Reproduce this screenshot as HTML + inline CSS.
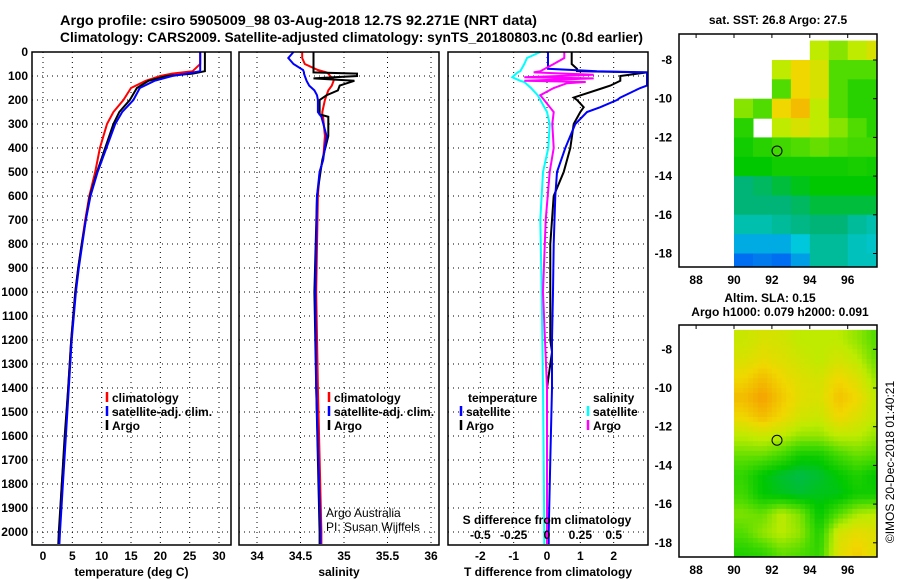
<!DOCTYPE html>
<html><head><meta charset="utf-8"><style>
html,body{margin:0;padding:0;background:#fff;}
svg{display:block;font-family:"Liberation Sans",sans-serif;}
.t{font-weight:bold;font-size:14px;}
.tk{font-weight:bold;font-size:12px;}
</style></head><body>
<svg id="fig" width="900" height="580" viewBox="0 0 900 580" xmlns="http://www.w3.org/2000/svg">
<text x="60" y="25" textLength="477" lengthAdjust="spacingAndGlyphs" class="t">Argo profile: csiro 5905009_98 03-Aug-2018 12.7S 92.271E (NRT data)</text>
<text x="60" y="42" textLength="583" lengthAdjust="spacingAndGlyphs" class="t">Climatology: CARS2009. Satellite-adjusted climatology: synTS_20180803.nc (0.8d earlier)</text>
<text x="778" y="24" text-anchor="middle" class="tk">sat. SST: 26.8 Argo: 27.5</text>
<text x="770" y="302" text-anchor="middle" class="tk">Altim. SLA: 0.15</text>
<text x="780" y="316" text-anchor="middle" class="tk">Argo h1000: 0.079 h2000: 0.091</text>
<text transform="translate(894,462) rotate(-90)" text-anchor="middle" font-size="12">©IMOS 20-Dec-2018 01:40:21</text>
<g id="layer"></g>
</svg>
<script>
// ---- profile data ----
const depths = [0,50,80,90,100,120,150,200,250,300,400,500,600,700,800,900,1000,1200,1400,1600,1800,2000,2050];
const tempArgo = [27.6,27.6,27.6,25.5,21.1,18,16,14.8,13,12,10.6,9.2,8.0,7.3,6.6,6.0,5.5,4.8,4.3,3.7,3.2,2.7,2.6];
const tempClim = [26.8,26.8,25.5,22,20,17.5,15,13.7,12,10.9,9.7,8.9,7.9,7.2,6.6,6.0,5.5,4.8,4.3,3.8,3.2,2.8,2.7];
const tempSat = [26.8,26.8,26.8,24.5,22,19,16.5,15.4,13.5,12.3,10.8,9.3,8.1,7.3,6.7,6.1,5.6,4.9,4.4,3.9,3.4,2.9,2.8];

const salDepths = [0,25,50,75,85,90,100,110,120,140,160,180,200,250,260,270,350,450,500,600,1000,1400,2000,2050];
const salArgo = [34.65,34.65,34.65,34.65,34.65,35.15,35.15,34.65,35.12,34.95,34.93,34.8,34.72,34.72,34.72,34.82,34.82,34.75,34.73,34.69,34.66,34.68,34.72,34.72];
const salClim = [34.52,34.52,34.55,34.7,34.8,34.82,34.84,34.87,34.88,34.86,34.82,34.8,34.78,34.75,34.75,34.76,34.78,34.76,34.72,34.7,34.68,34.7,34.74,34.74];
const salSat = [34.42,34.36,34.42,34.53,34.54,34.54,34.55,34.56,34.57,34.6,34.66,34.69,34.70,34.70,34.72,34.74,34.8,34.76,34.72,34.69,34.67,34.68,34.73,34.73];

const diffDepths = [0,50,70,80,85,100,120,140,150,190,200,230,250,300,400,500,600,800,1000,1200,1250,1400,1700,2000,2050];
const dTArgo = [0.74,0.74,0.9,0.9,3.0,2.2,2.2,1.9,1.68,0.8,0.9,1.1,1.0,0.8,0.7,0.5,0.2,0.1,0.1,0.1,0.15,0.0,0.0,0.0,0.0];
const dTSat = [0.03,0.03,0.03,1.5,3.0,3.0,3.0,3.0,2.8,2.2,2.1,1.6,1.2,0.85,0.55,0.3,0.25,0.2,0.18,0.15,0.15,0.15,0.1,0.05,0.05];
const sDepths = [0,25,50,80,85,95,105,110,120,125,130,150,180,250,300,400,500,700,1000,1400,2000,2050];
const dSArgo = [0.13,0.13,0.05,-0.05,-0.1,0.35,-0.17,0.35,-0.17,0.29,0.15,0.05,-0.05,0.05,0.04,0.05,0.02,-0.01,-0.03,0,0,0];
const dSSat = [-0.05,-0.15,-0.17,-0.2,-0.22,-0.24,-0.26,-0.24,-0.2,-0.17,-0.16,-0.12,-0.07,0,0.02,0.01,-0.03,-0.05,-0.04,-0.03,-0.02,-0.02];

// ---- map data (1 degree cells, lon 90..98, lat -7..-19) ----
const mapLons = [90,91,92,93,94,95,96,97];
const mapLats = [-7,-8,-9,-10,-11,-12,-13,-14,-15,-16,-17,-18];
const sstGrid = [
 [null,null,null,null,0.8,0.75,0.8,0.85],
 [null,null,0.8,0.9,0.85,0.7,0.7,0.7],
 [null,null,0.7,0.9,0.85,0.7,0.65,0.65],
 [0.75,0.7,0.9,0.95,0.8,0.7,0.65,0.65],
 [0.65,null,0.8,0.85,0.8,0.75,0.7,0.65],
 [0.62,0.65,0.68,0.7,0.72,0.7,0.68,0.68],
 [0.6,0.6,0.62,0.62,0.62,0.62,0.63,0.62],
 [0.5,0.52,0.55,0.58,0.6,0.6,0.6,0.6],
 [0.5,0.5,0.5,0.52,0.55,0.55,0.55,0.55],
 [0.42,0.42,0.45,0.48,0.5,0.5,0.45,0.42],
 [0.3,0.3,0.3,0.35,0.45,0.45,0.4,0.38],
 [0.2,0.22,0.2,0.28,0.45,0.45,0.4,0.4]];
const slaGrid = [
 [0.82,0.85,0.84,0.8,0.8,0.8,0.76,0.7],
 [0.85,0.88,0.86,0.83,0.8,0.84,0.8,0.72],
 [0.9,0.95,0.9,0.86,0.84,0.9,0.86,0.76],
 [0.95,1.0,0.93,0.87,0.85,0.94,0.9,0.8],
 [0.9,0.95,0.9,0.84,0.82,0.9,0.86,0.8],
 [0.8,0.82,0.8,0.76,0.76,0.8,0.8,0.76],
 [0.72,0.72,0.68,0.62,0.62,0.68,0.72,0.7],
 [0.66,0.6,0.56,0.54,0.56,0.6,0.64,0.6],
 [0.68,0.6,0.58,0.56,0.58,0.58,0.62,0.62],
 [0.74,0.72,0.8,0.74,0.6,0.7,0.78,0.8],
 [0.7,0.76,0.8,0.76,0.64,0.84,0.88,0.86],
 [0.64,0.66,0.72,0.7,0.66,0.86,0.92,0.86]];
const argoLon = 92.27, argoLat = -12.7;

const depthTicks = [0,100,200,300,400,500,600,700,800,900,1000,1100,1200,1300,1400,1500,1600,1700,1800,1900,2000];
const tempTicks = [0,5,10,15,20,25,30];
const salTicks = [34,34.5,35,35.5,36];
const salTickLabels = ["34","34.5","35","35.5","36"];
const dTTicks = [-2,-1,0,1,2];
const dSTicks = [-0.5,-0.25,0,0.25,0.5];
const lonTicks = [88,90,92,94,96];
const latTicks = [-8,-10,-12,-14,-16,-18];

const NS = "http://www.w3.org/2000/svg";
const layer = document.getElementById('layer');
function mk(tag, attrs, parent){ const e=document.createElementNS(NS,tag); for(const k in attrs) e.setAttribute(k,attrs[k]); (parent||layer).appendChild(e); return e; }

const Y = d => 52 + d*0.24;
const PTOP = 52, PBOT = 545;
const panels = [
 {x0:32,x1:231, sx: v => 43 + v*5.867, ticks:tempTicks, labels:tempTicks.map(String), title:"temperature (deg C)", name:"temperature-panel"},
 {x0:239,x1:439, sx: v => 257 + (v-34)*87, ticks:salTicks, labels:salTickLabels, title:"salinity", name:"salinity-panel"},
 {x0:448,x1:648, sx: v => 547 + v*33.33, ticks:dTTicks, labels:dTTicks.map(String), title:"T difference from climatology", name:"difference-panel"}
];
const sxS = v => 547 + v*133.33;

panels.forEach((p,pi)=>{
  const g = mk('g',{});
  
  
  depthTicks.forEach(d=>{ if(d===0) return;
    const l=mk('line',{x1:p.x0,x2:p.x1,y1:Y(d),y2:Y(d),stroke:'#000','stroke-width':1,'stroke-dasharray':'1,4'},g);
     
  });
  p.ticks.forEach(v=>{
    const l=mk('line',{x1:p.sx(v),x2:p.sx(v),y1:PTOP,y2:PBOT,stroke:'#000','stroke-width':1,'stroke-dasharray':'1,4'},g);
     
  });
  p.ticks.forEach((v,i)=>{
    const t=mk('text',{x:p.sx(v),y:560,'text-anchor':'middle','class':'tk'},g); t.textContent=p.labels[i];
     
  });
  const tt=mk('text',{x:(p.x0+p.x1)/2,y:576,'text-anchor':'middle','class':'tk'},g); tt.textContent=p.title;
   
  if(pi===0){
    depthTicks.forEach(d=>{
      const t=mk('text',{x:28,y:Y(d)+4,'text-anchor':'end','class':'tk'},g); t.textContent=String(d);
       
    });
  }
  p.g = g;
});

function prof(g, ds, vs, sx, col, w, name){
  const pts = ds.map((d,i)=>{ let x=sx(vs[i]); x=Math.min(x,648); return x.toFixed(1)+','+Y(d).toFixed(1); }).join(' ');
  const pl = mk('polyline',{points:pts,fill:'none',stroke:col,'stroke-width':w},g);
  
  
}
prof(panels[0].g, depths, tempClim, panels[0].sx, '#f00', 2, 'temperature-climatology-line');
prof(panels[0].g, depths, tempArgo, panels[0].sx, '#000', 2, 'temperature-argo-line');
prof(panels[0].g, depths, tempSat, panels[0].sx, '#00f', 2, 'temperature-satellite-line');
prof(panels[1].g, salDepths, salClim, panels[1].sx, '#f00', 2, 'salinity-climatology-line');
prof(panels[1].g, salDepths, salArgo, panels[1].sx, '#000', 2, 'salinity-argo-line');
prof(panels[1].g, salDepths, salSat, panels[1].sx, '#00f', 2, 'salinity-satellite-line');
prof(panels[2].g, diffDepths, dTArgo, panels[2].sx, '#000', 2, 'temp-diff-argo-line');
prof(panels[2].g, diffDepths, dTSat, panels[2].sx, '#00f', 2, 'temp-diff-satellite-line');
prof(panels[2].g, sDepths, dSSat, sxS, '#0ff', 2, 'sal-diff-satellite-line');
prof(panels[2].g, sDepths, dSArgo, sxS, '#f0f', 2, 'sal-diff-argo-line');

const sTitle=mk('text',{x:547,y:524,'text-anchor':'middle','class':'tk'}); sTitle.textContent='S difference from climatology';
 
dSTicks.forEach(v=>{
  const t=mk('text',{x:sxS(v),y:539,'text-anchor':'middle','class':'tk'}); t.textContent=String(v);
   
});

panels.forEach(p=>{
  const r=mk('rect',{x:p.x0,y:PTOP,width:p.x1-p.x0,height:PBOT-PTOP,fill:'none',stroke:'#000','stroke-width':1.5});
   
});

function legItem(x,y,col,label,name){
  const l=mk('line',{x1:x,x2:x,y1:y-10,y2:y,stroke:col,'stroke-width':2.5});
   
  const t=mk('text',{x:x+5,y:y,'class':'tk'}); t.textContent=label;
   
}
[[107,'temp'],[329,'sal']].forEach(([x,n])=>{
  legItem(x,402,'#f00','climatology',n+'-legend-climatology');
  legItem(x,416,'#00f','satellite-adj. clim.',n+'-legend-satellite');
  legItem(x,430,'#000','Argo',n+'-legend-argo');
});
const lt=mk('text',{x:468,y:402,'class':'tk'}); lt.textContent='temperature';
 
legItem(461,416,'#00f','satellite','legend-t-satellite');
legItem(461,430,'#000','Argo','legend-t-argo');
const ls=mk('text',{x:593,y:402,'class':'tk'}); ls.textContent='salinity';
 
legItem(588,416,'#0ff','satellite','legend-s-satellite');
legItem(588,430,'#f0f','Argo','legend-s-argo');

const c1=mk('text',{x:326,y:517,'font-size':12}); c1.textContent='Argo Australia';
 
const c2=mk('text',{x:326,y:531,'font-size':12}); c2.textContent='PI: Susan Wijffels';
 

// ---- maps ----
const stops=[[0,[0,30,200]],[0.2,[0,110,240]],[0.35,[0,200,220]],[0.5,[0,180,120]],[0.6,[0,200,0]],[0.7,[80,220,0]],[0.8,[190,235,0]],[0.9,[240,215,0]],[1,[245,160,0]]];
function cmap(v){
  for(let i=1;i<stops.length;i++){ if(v<=stops[i][0]){ const a=stops[i-1],b=stops[i],f=(v-a[0])/(b[0]-a[0]);
    const c=a[1].map((x,k)=>Math.round(x+(b[1][k]-x)*f)); return 'rgb('+c.join(',')+')'; } }
  return 'rgb(245,160,0)';
}
const mLX = lon => 734 + (lon-90)*18.95;
function sample(grid, r, c){
  const R=grid.length, C=grid[0].length;
  r=Math.max(0,Math.min(R-1,r)); c=Math.max(0,Math.min(C-1,c));
  const r0=Math.floor(r), c0=Math.floor(c), r1=Math.min(R-1,r0+1), c1=Math.min(C-1,c0+1);
  const fr=r-r0, fc=c-c0;
  return grid[r0][c0]*(1-fr)*(1-fc)+grid[r0][c1]*(1-fr)*fc+grid[r1][c0]*fr*(1-fc)+grid[r1][c1]*fr*fc;
}
function drawMap(top,bot,latRef,grid,name,smooth){
  const MY = lat => latRef.y + (latRef.lat - lat)*19.35;
  const g=mk('g',{});  
  const cp='clip-'+name;
  const defs=mk('defs',{},g); const cl=mk('clipPath',{id:cp},defs); mk('rect',{x:679,y:top,width:198,height:bot-top},cl);
  const cg=mk('g',{'clip-path':'url(#'+cp+')'},g);
  if(smooth){
    const n=4;
    for(let ri=0;ri<grid.length*n;ri++) for(let ci=0;ci<grid[0].length*n;ci++){
      const v=sample(grid,(ri+0.5)/n-0.5,(ci+0.5)/n-0.5);
      const x=mLX(mapLons[0]+ci/n), y=MY(mapLats[0]-ri/n);
      const r=mk('rect',{x:x.toFixed(1),y:y.toFixed(1),width:5.3,height:5.4,fill:cmap(v)},cg);
       
    }
  } else {
    grid.forEach((row,ri)=>row.forEach((v,ci)=>{
      if(v===null) return;
      const x=mLX(mapLons[ci]), y=MY(mapLats[ri]);
      const r=mk('rect',{x:x.toFixed(1),y:y.toFixed(1),width:19.5,height:20,fill:cmap(v)},cg);
       
    }));
  }
  const m=mk('circle',{cx:mLX(argoLon),cy:MY(argoLat),r:5,fill:'none',stroke:'#000','stroke-width':1},g);
   
  const fr=mk('rect',{x:679,y:top,width:198,height:bot-top,fill:'none',stroke:'#000','stroke-width':1.5},g);
   
  lonTicks.forEach(v=>{
    mk('line',{x1:mLX(v),x2:mLX(v),y1:top,y2:top+4,stroke:'#000'},g);
    const t=mk('text',{x:mLX(v),y:bot+17,'text-anchor':'middle','class':'tk'},g); t.textContent=String(v);
     
  });
  latTicks.forEach(v=>{
    mk('line',{x1:873,x2:877,y1:MY(v),y2:MY(v),stroke:'#000'},g);
    const t=mk('text',{x:672,y:MY(v)+4,'text-anchor':'end','class':'tk'},g); t.textContent=String(v);
     
  });
}
drawMap(34,267,{lat:-8,y:60},sstGrid,'sst-map',false);
drawMap(325,557,{lat:-10,y:388},slaGrid,'sla-map',true);
</script>
</body></html>
